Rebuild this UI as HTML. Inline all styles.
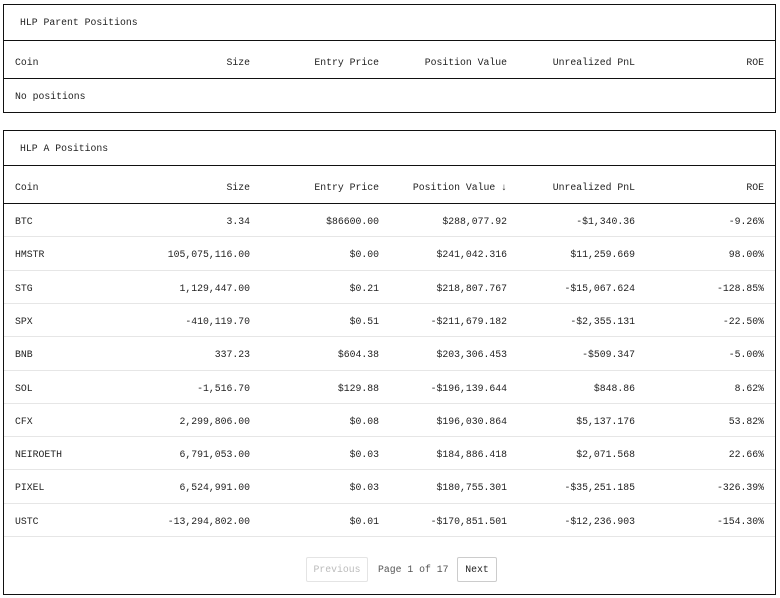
<!DOCTYPE html>
<html><head><style>
body{margin:0;width:780px;height:598px;background:#fff;font-family:"Liberation Mono",monospace;font-size:9.8px;color:#222;position:relative;overflow:hidden}
.box{position:absolute;left:3px;width:773px;border:1.5px solid #111;box-sizing:border-box}
.t{position:absolute;white-space:nowrap}
.hl{position:absolute;left:0;right:0;height:0;border-top:1.5px solid #111}
.rl{position:absolute;left:0;right:0;height:0;border-top:1px solid #e6e6e6}
.r{text-align:right}
.btn{position:absolute;border:1px solid #ccc;border-radius:2px;box-sizing:border-box;text-align:center;line-height:24px}
</style></head><body>
<div class="box" style="top:4px;height:109px">
<div class="t" style="left:16px;top:12px">HLP Parent Positions</div>
<div class="hl" style="top:35px"></div>
<div class="t" style="left:11px;top:52px">Coin</div>
<div class="t r" style="right:525px;top:52px">Size</div>
<div class="t r" style="right:396px;top:52px">Entry Price</div>
<div class="t r" style="right:268px;top:52px">Position Value</div>
<div class="t r" style="right:140px;top:52px">Unrealized PnL</div>
<div class="t r" style="right:11px;top:52px">ROE</div>
<div class="hl" style="top:73px"></div>
<div class="t" style="left:11px;top:86px">No positions</div>
</div>
<div class="box" style="top:130px;height:465px" id="b2">
<div class="t" style="left:16px;top:12px">HLP A Positions</div>
<div class="hl" style="top:34px"></div>
<div class="t" style="left:11px;top:51px">Coin</div>
<div class="t r" style="right:525px;top:51px">Size</div>
<div class="t r" style="right:396px;top:51px">Entry Price</div>
<div class="t r" style="right:268px;top:51px">Position Value ↓</div>
<div class="t r" style="right:140px;top:51px">Unrealized PnL</div>
<div class="t r" style="right:11px;top:51px">ROE</div>
<div class="hl" style="top:72px"></div>
<div id="rows"></div>
<div class="btn" style="left:302px;top:426px;width:62px;height:25px;color:#bbb;border-color:#e4e4e4">Previous</div>
<div class="t" style="left:374px;top:433px;color:#555">Page 1 of 17</div>
<div class="btn" style="left:453px;top:426px;width:40px;height:25px">Next</div>
</div>
<script>
var d=[["BTC","3.34","$86600.00","$288,077.92","-$1,340.36","-9.26%"],
["HMSTR","105,075,116.00","$0.00","$241,042.316","$11,259.669","98.00%"],
["STG","1,129,447.00","$0.21","$218,807.767","-$15,067.624","-128.85%"],
["SPX","-410,119.70","$0.51","-$211,679.182","-$2,355.131","-22.50%"],
["BNB","337.23","$604.38","$203,306.453","-$509.347","-5.00%"],
["SOL","-1,516.70","$129.88","-$196,139.644","$848.86","8.62%"],
["CFX","2,299,806.00","$0.08","$196,030.864","$5,137.176","53.82%"],
["NEIROETH","6,791,053.00","$0.03","$184,886.418","$2,071.568","22.66%"],
["PIXEL","6,524,991.00","$0.03","$180,755.301","-$35,251.185","-326.39%"],
["USTC","-13,294,802.00","$0.01","-$170,851.501","-$12,236.903","-154.30%"]];
var rt=[525,396,268,140,11],h="";
d.forEach(function(r,i){var y=72+i*33.3;
h+='<div class="t" style="left:11px;top:'+(y+13)+'px">'+r[0]+'</div>';
for(var j=1;j<6;j++)h+='<div class="t r" style="right:'+rt[j-1]+'px;top:'+(y+13)+'px">'+r[j]+'</div>';
h+='<div class="rl" style="top:'+(y+33.3)+'px"></div>';});
document.getElementById('rows').innerHTML=h;
</script>
</body></html>
